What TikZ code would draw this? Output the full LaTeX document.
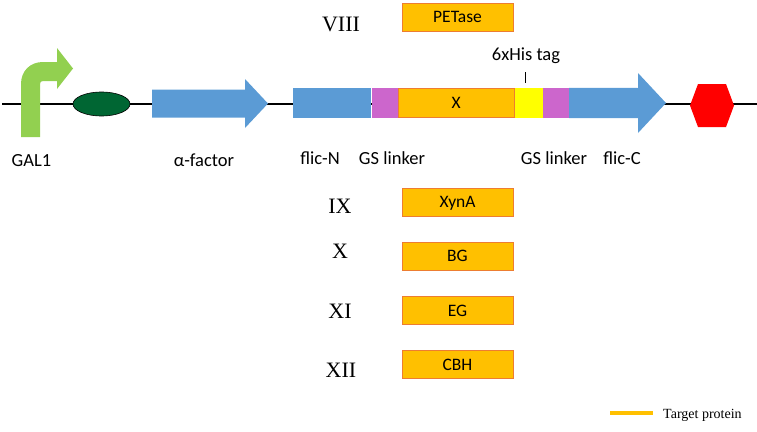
\documentclass[tikz,border=0pt]{standalone}
\usepackage{fontspec}
\setmainfont{Carlito}
\newfontfamily\romfont{Liberation Serif}
\definecolor{pgreen}{HTML}{92D050}
\definecolor{tgreen}{HTML}{006633}
\definecolor{cblue}{HTML}{5B9BD5}
\definecolor{gsmag}{HTML}{CC66CC}
\definecolor{torange}{HTML}{FFC000}
\definecolor{tborder}{HTML}{ED7D31}
\definecolor{hisyel}{HTML}{FFFF00}
\tikzset{
  lbl/.style={inner sep=0pt, anchor=base, font=\fontsize{18.5}{20}\selectfont},
  roman/.style={inner sep=0pt, anchor=base, font=\romfont\fontsize{22}{24}\selectfont},
  tbox/.style={draw=tborder, line width=0.8pt, fill=torange, minimum width=111pt, minimum height=28pt,
    inner sep=0pt, text height=11pt, text depth=0pt, font=\fontsize{17.5}{19}\selectfont},
  seg/.style={inner sep=0pt, minimum height=30pt, anchor=west},
}
\begin{document}
\begin{tikzpicture}[x=1pt,y=-1pt]
\useasboundingbox (0,0) rectangle (757,431);
% backbone
\coordinate (ls) at (2,104);
\coordinate (le) at (757,104);
\draw[line width=1.6pt] (ls) -- (le);
% promoter bent arrow
\fill[pgreen] (21,137) -- (21,84) .. controls (21,71) and (30,62) .. (43,62) -- (57,62) -- (57,48)
  -- (73,68.5) -- (57,89) -- (57,81) -- (43,81) .. controls (41,81) and (40,82) .. (40,84) -- (40,137) -- cycle;
% ellipse
\draw[fill=tgreen, line width=0.6pt] (101.5,104) ellipse [x radius=28.5, y radius=12];
% alpha-factor arrow
\fill[cblue] (152,89.5) -- (245,89.5) -- (245,79) -- (268,103.5) -- (245,128) -- (245,117.5) -- (152,117.5) -- cycle;
% fusion
\node[seg, fill=cblue, minimum width=78pt] (flicN) at (293,103) {};
\node[seg, fill=gsmag, minimum width=26pt] (gs1) at (flicN.east) {};
\node[seg, fill=torange, draw=tborder, line width=0.6pt, minimum width=116pt, minimum height=29.4pt,
  font=\fontsize{17.5}{19}\selectfont] (xbox) at (gs1.east) {X};
\node[seg, fill=hisyel, minimum width=28pt] (his) at (xbox.east) {};
\node[seg, fill=gsmag, minimum width=26pt] (gs2) at (his.east) {};
\fill[cblue] (gs2.north east) -- (638,88) -- (638,73) -- (666,103) -- (638,133) -- (638,118) -- (gs2.south east) -- cycle;
% terminator hexagon
\fill[red] (690,105.5) -- (698,84) -- (726,84) -- (734,105.5) -- (726,127) -- (698,127) -- cycle;
% 6xHis tag
\node[lbl] (histag) at (526,60) {6xHis tag};
\coordinate (tickT) at (525,72);
\coordinate (tickB) at (525,83);
\draw[line width=0.8pt] (tickT) -- (tickB);
% labels
\node[lbl] (gal) at (31.5,166) {GAL1};
\node[lbl] (alpha) at (204,166) {α-factor};
\node[lbl] (fn) at (320,164) {flic-N};
\node[lbl] (gsl1) at (392,164) {GS linker};
\node[lbl] (gsl2) at (554,164) {GS linker};
\node[lbl] (fc) at (622,164) {flic-C};
% variants
\node[roman] (r8) at (341,31) {VIII};
\node[tbox] (pet) at (457.5,17.5) {PETase};
\node[roman] (r9) at (340,213) {IX};
\node[tbox] (xyn) at (457.5,202) {XynA};
\node[roman] (r10) at (340,258) {X};
\node[tbox] (bg) at (457.5,256) {BG};
\node[roman] (r11) at (340,318) {XI};
\node[tbox] (eg) at (457.5,310.5) {EG};
\node[roman] (r12) at (341,377) {XII};
\node[tbox] (cbh) at (457.5,364.5) {CBH};
% legend
\coordinate (legA) at (610,413);
\coordinate (legB) at (653,413);
\draw[torange, line width=4pt] (legA) -- (legB);
\node[inner sep=0pt, anchor=base west, font=\romfont\fontsize{14}{16}\selectfont] (legt) at (663,418) {Target protein};
\end{tikzpicture}
\end{document}
